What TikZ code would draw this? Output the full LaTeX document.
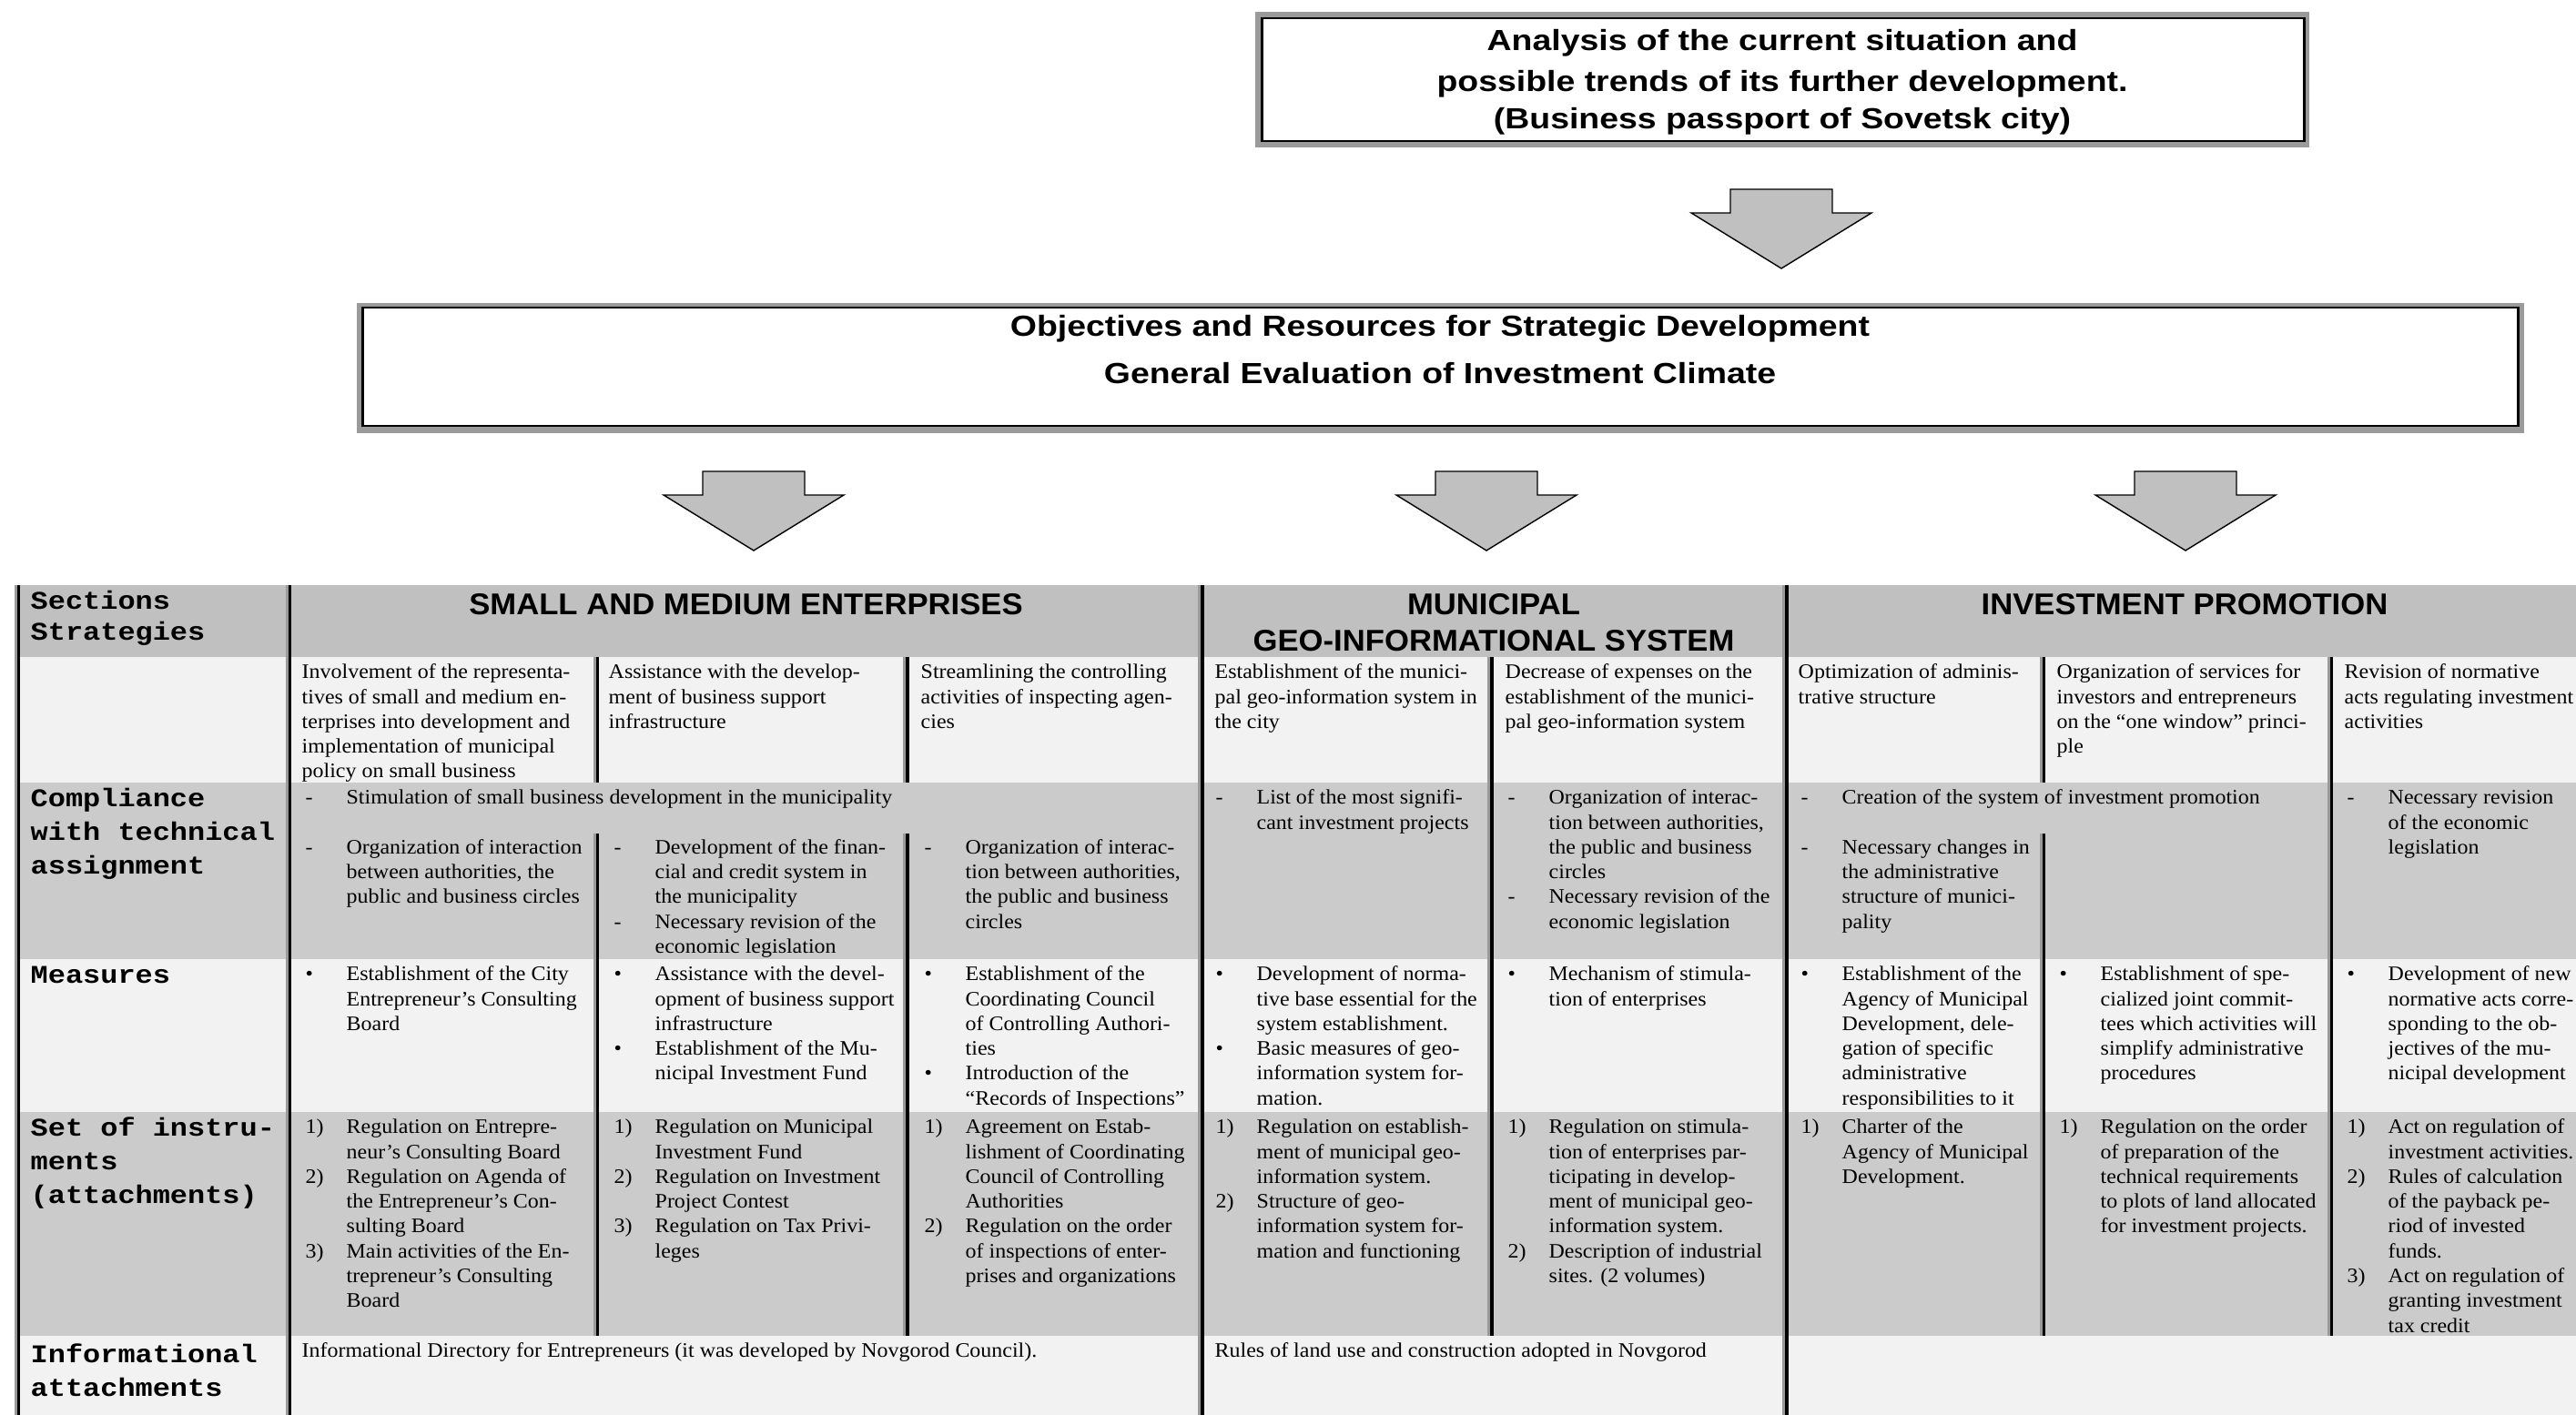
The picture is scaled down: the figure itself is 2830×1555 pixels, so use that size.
\documentclass[tikz,border=0pt]{standalone}
\usepackage{fontspec}
\setmainfont{Liberation Serif}
\newfontfamily\cellfamily{Liberation Serif}[FakeStretch=1.06]
\newfontfamily\labelfamily{Liberation Mono}[FakeStretch=1.14]
\newfontfamily\headfamily{Liberation Sans}[FakeStretch=1.05]
\newfontfamily\boxfamily{Liberation Sans}[FakeStretch=1.17]

\definecolor{headgray}{HTML}{C0C0C0}
\definecolor{rowgray}{HTML}{CBCBCB}
\definecolor{rowlight}{HTML}{F2F2F2}
\definecolor{framegray}{HTML}{9A9A9A}
\definecolor{linegray}{HTML}{999999}
\definecolor{arrowgray}{HTML}{C0C0C0}

% drawing unit: 0.1 mm = 0.28453 pt
\newcommand\cs{\rule{0pt}{5.69pt}}   % first-line strut for cell text
\newcommand\ls{\rule{0pt}{7.4pt}}    % first-line strut for row labels
\newcommand\hs{\rule{0pt}{8.54pt}}   % first-line strut for headings
\newcommand\itm[1]{\makebox[12.8pt][l]{#1}}
\newcommand\ind{\hspace*{12.8pt}}

\tikzset{
  cell/.style={anchor=north west, inner sep=0pt, align=left,
    font=\cellfamily\fontsize{6.43}{7.77}\selectfont},
  rowlabel/.style={anchor=north west, inner sep=0pt, align=left,
    font=\labelfamily\bfseries\fontsize{7.97}{10.47}\selectfont},
  heading/.style={anchor=north, inner sep=0pt, align=center,
    font=\headfamily\bfseries\fontsize{9.39}{11.38}\selectfont},
  boxtext/.style={anchor=north, inner sep=0pt, align=center,
    font=\boxfamily\bfseries\fontsize{9.1}{11.67}\selectfont},
  boxshade/.style={rectangle, fill=framegray, inner sep=0pt},
  boxframe/.style={rectangle, draw=black, line width=0.85pt, fill=white, inner sep=0pt},
  blockarrow/.style={fill=arrowgray, draw=black, line width=0.4pt, line join=miter},
  sepshade/.style={draw=linegray, line width=0.85pt},
  sepline/.style={draw=black, line width=0.95pt},
}

% block arrow pointing down: #1 = tip x, #2 = top of shaft
\newcommand\blockarrow[2]{%
  \draw[blockarrow] (#1-56,#2) -- (#1+56,#2) -- (#1+56,#2+26) -- (#1+99,#2+26)
    -- (#1,#2+87) -- (#1-99,#2+26) -- (#1-56,#2+26) -- cycle;}

% column separator: grey shade on the left of a black rule
\newcommand\colsep[3]{%
  \draw[sepshade] (#1-3.2,#2) -- (#1-3.2,#3);
  \draw[sepline] (#1,#2) -- (#1,#3);}

\begin{document}
\begin{tikzpicture}[x=0.1mm, y=-0.1mm]
\useasboundingbox (0,0) rectangle (2830,1555);
\fill[white] (0,0) rectangle (2830,1555);

% ---------- top box ----------
\node[boxshade, minimum width=115.8mm, minimum height=14.9mm] (analysisshade) at (1958,87.5) {};
\node[boxframe, minimum width=114.5mm, minimum height=13.5mm] (analysis) at (1958.5,87.5) {};
\node[boxtext] (analysistext) at (1958,25)
  {\hs Analysis of the current situation and\\[1.2pt]
   possible trends of its further development.\\
   (Business passport of Sovetsk city)};

\blockarrow{1957}{208}

% ---------- objectives box ----------
\node[boxshade, minimum width=238.1mm, minimum height=14.3mm] (objshade) at (1582.5,404.5) {};
\node[boxframe, minimum width=236.8mm, minimum height=13mm] (objectives) at (1582,403) {};
\node[boxtext] (objtext) at (1582,339)
  {\hs Objectives and Resources for Strategic Development\\[3.1pt]
   General Evaluation of Investment Climate};

\blockarrow{828}{518}
\blockarrow{1633}{518}
\blockarrow{2401}{518}

% ---------- table rows ----------
\fill[headgray] (16,643) rectangle (2830,722);
\fill[rowlight] (16,722) rectangle (2830,860);
\fill[rowgray]  (16,860) rectangle (2830,1054);
\fill[rowlight] (16,1054) rectangle (2830,1222);
\fill[rowgray]  (16,1222) rectangle (2830,1468);
\fill[rowlight] (16,1468) rectangle (2830,1555);

% ---------- column rules ----------
\colsep{20.5}{643}{1555}
\colsep{318.5}{643}{1555}
\colsep{1321}{643}{1555}
\colsep{1963}{643}{1555}
\colsep{656.5}{722}{860}  \colsep{656.5}{916}{1468}
\colsep{997}{722}{860}    \colsep{997}{916}{1468}
\colsep{1639}{722}{1468}
\colsep{2245.5}{722}{860} \colsep{2245.5}{916}{1468}
\colsep{2561.5}{722}{1468}

% ---------- row labels ----------
\node[rowlabel] (lblsect) at (33,643) {\ls Sections\\[-0.8pt]Strategies};
\node[rowlabel] (lblcomp) at (33,860) {\ls Compliance\\with technical\\assignment};
\node[rowlabel] (lblmeas) at (33,1054) {\ls Measures};
\node[rowlabel] (lblinst) at (33,1222) {\ls Set of instru-\\ments\\(attachments)};
\node[rowlabel] (lblinfo) at (33,1471) {\ls Informational\\attachments};

% ---------- section headings ----------
\node[heading] (hsme) at (819.5,645) {\hs SMALL AND MEDIUM ENTERPRISES};
\node[heading] (hgis) at (1641,645) {\hs MUNICIPAL\\GEO-INFORMATIONAL SYSTEM};
\node[heading] (hinv) at (2400,645) {\hs INVESTMENT PROMOTION};

% ---------- strategies ----------
\node[cell] (sa1) at (331,725) {\cs Involvement of the representa-\\tives of small and medium en-\\terprises into development and\\implementation of municipal\\policy on small business};
\node[cell] (sa2) at (668,725) {\cs Assistance with the develop-\\ment of business support\\infrastructure};
\node[cell] (sa3) at (1011,725) {\cs Streamlining the controlling\\activities of inspecting agen-\\cies};
\node[cell] (sb1) at (1334,725) {\cs Establishment of the munici-\\pal geo-information system in\\the city};
\node[cell] (sb2) at (1653,725) {\cs Decrease of expenses on the\\establishment of the munici-\\pal geo-information system};
\node[cell] (sc1) at (1975,725) {\cs Optimization of adminis-\\trative structure};
\node[cell] (sc2) at (2259,725) {\cs Organization of services for\\investors and entrepreneurs\\on the “one window” princi-\\ple};
\node[cell] (sc3) at (2575,725) {\cs Revision of normative\\acts regulating investment\\activities};

% ---------- compliance with technical assignment ----------
\node[cell] (ca) at (335,863) {\cs\itm{-}Stimulation of small business development in the municipality};
\node[cell] (ca1) at (335,917.6) {\cs\itm{-}Organization of interaction\\\ind between authorities, the\\\ind public and business circles};
\node[cell] (ca2) at (674,917.6) {\cs\itm{-}Development of the finan-\\\ind cial and credit system in\\\ind the municipality\\\itm{-}Necessary revision of the\\\ind economic legislation};
\node[cell] (ca3) at (1015,917.6) {\cs\itm{-}Organization of interac-\\\ind tion between authorities,\\\ind the public and business\\\ind circles};
\node[cell] (cb1) at (1335,863) {\cs\itm{-}List of the most signifi-\\\ind cant investment projects};
\node[cell] (cb2) at (1656,863) {\cs\itm{-}Organization of interac-\\\ind tion between authorities,\\\ind the public and business\\\ind circles\\\itm{-}Necessary revision of the\\\ind economic legislation};
\node[cell] (cc) at (1978,863) {\cs\itm{-}Creation of the system of investment promotion};
\node[cell] (cc1) at (1978,917.6) {\cs\itm{-}Necessary changes in\\\ind the administrative\\\ind structure of munici-\\\ind pality};
\node[cell] (cc3) at (2578,863) {\cs\itm{-}Necessary revision\\\ind of the economic\\\ind legislation};

% ---------- measures ----------
\node[cell] (ma1) at (335,1057) {\cs\itm{•}Establishment of the City\\\ind Entrepreneur’s Consulting\\\ind Board};
\node[cell] (ma2) at (674,1057) {\cs\itm{•}Assistance with the devel-\\\ind opment of business support\\\ind infrastructure\\\itm{•}Establishment of the Mu-\\\ind nicipal Investment Fund};
\node[cell] (ma3) at (1015,1057) {\cs\itm{•}Establishment of the\\\ind Coordinating Council\\\ind of Controlling Authori-\\\ind ties\\\itm{•}Introduction of the\\\ind “Records of Inspections”};
\node[cell] (mb1) at (1335,1057) {\cs\itm{•}Development of norma-\\\ind tive base essential for the\\\ind system establishment.\\\itm{•}Basic measures of geo-\\\ind information system for-\\\ind mation.};
\node[cell] (mb2) at (1656,1057) {\cs\itm{•}Mechanism of stimula-\\\ind tion of enterprises};
\node[cell] (mc1) at (1978,1057) {\cs\itm{•}Establishment of the\\\ind Agency of Municipal\\\ind Development, dele-\\\ind gation of specific\\\ind administrative\\\ind responsibilities to it};
\node[cell] (mc2) at (2262,1057) {\cs\itm{•}Establishment of spe-\\\ind cialized joint commit-\\\ind tees which activities will\\\ind simplify administrative\\\ind procedures};
\node[cell] (mc3) at (2578,1057) {\cs\itm{•}Development of new\\\ind normative acts corre-\\\ind sponding to the ob-\\\ind jectives of the mu-\\\ind nicipal development};

% ---------- set of instruments ----------
\node[cell] (ia1) at (335,1225) {\cs\itm{1)}Regulation on Entrepre-\\\ind neur’s Consulting Board\\\itm{2)}Regulation on Agenda of\\\ind the Entrepreneur’s Con-\\\ind sulting Board\\\itm{3)}Main activities of the En-\\\ind trepreneur’s Consulting\\\ind Board};
\node[cell] (ia2) at (674,1225) {\cs\itm{1)}Regulation on Municipal\\\ind Investment Fund\\\itm{2)}Regulation on Investment\\\ind Project Contest\\\itm{3)}Regulation on Tax Privi-\\\ind leges};
\node[cell] (ia3) at (1015,1225) {\cs\itm{1)}Agreement on Estab-\\\ind lishment of Coordinating\\\ind Council of Controlling\\\ind Authorities\\\itm{2)}Regulation on the order\\\ind of inspections of enter-\\\ind prises and organizations};
\node[cell] (ib1) at (1335,1225) {\cs\itm{1)}Regulation on establish-\\\ind ment of municipal geo-\\\ind information system.\\\itm{2)}Structure of geo-\\\ind information system for-\\\ind mation and functioning};
\node[cell] (ib2) at (1656,1225) {\cs\itm{1)}Regulation on stimula-\\\ind tion of enterprises par-\\\ind ticipating in develop-\\\ind ment of municipal geo-\\\ind information system.\\\itm{2)}Description of industrial\\\ind sites. (2 volumes)};
\node[cell] (ic1) at (1978,1225) {\cs\itm{1)}Charter of the\\\ind Agency of Municipal\\\ind Development.};
\node[cell] (ic2) at (2262,1225) {\cs\itm{1)}Regulation on the order\\\ind of preparation of the\\\ind technical requirements\\\ind to plots of land allocated\\\ind for investment projects.};
\node[cell] (ic3) at (2578,1225) {\cs\itm{1)}Act on regulation of\\\ind investment activities.\\\itm{2)}Rules of calculation\\\ind of the payback pe-\\\ind riod of invested\\\ind funds.\\\itm{3)}Act on regulation of\\\ind granting investment\\\ind tax credit};

% ---------- informational attachments ----------
\node[cell] (fa) at (331,1471) {\cs Informational Directory for Entrepreneurs (it was developed by Novgorod Council).};
\node[cell] (fb) at (1334,1471) {\cs Rules of land use and construction adopted in Novgorod};

\end{tikzpicture}
\end{document}
